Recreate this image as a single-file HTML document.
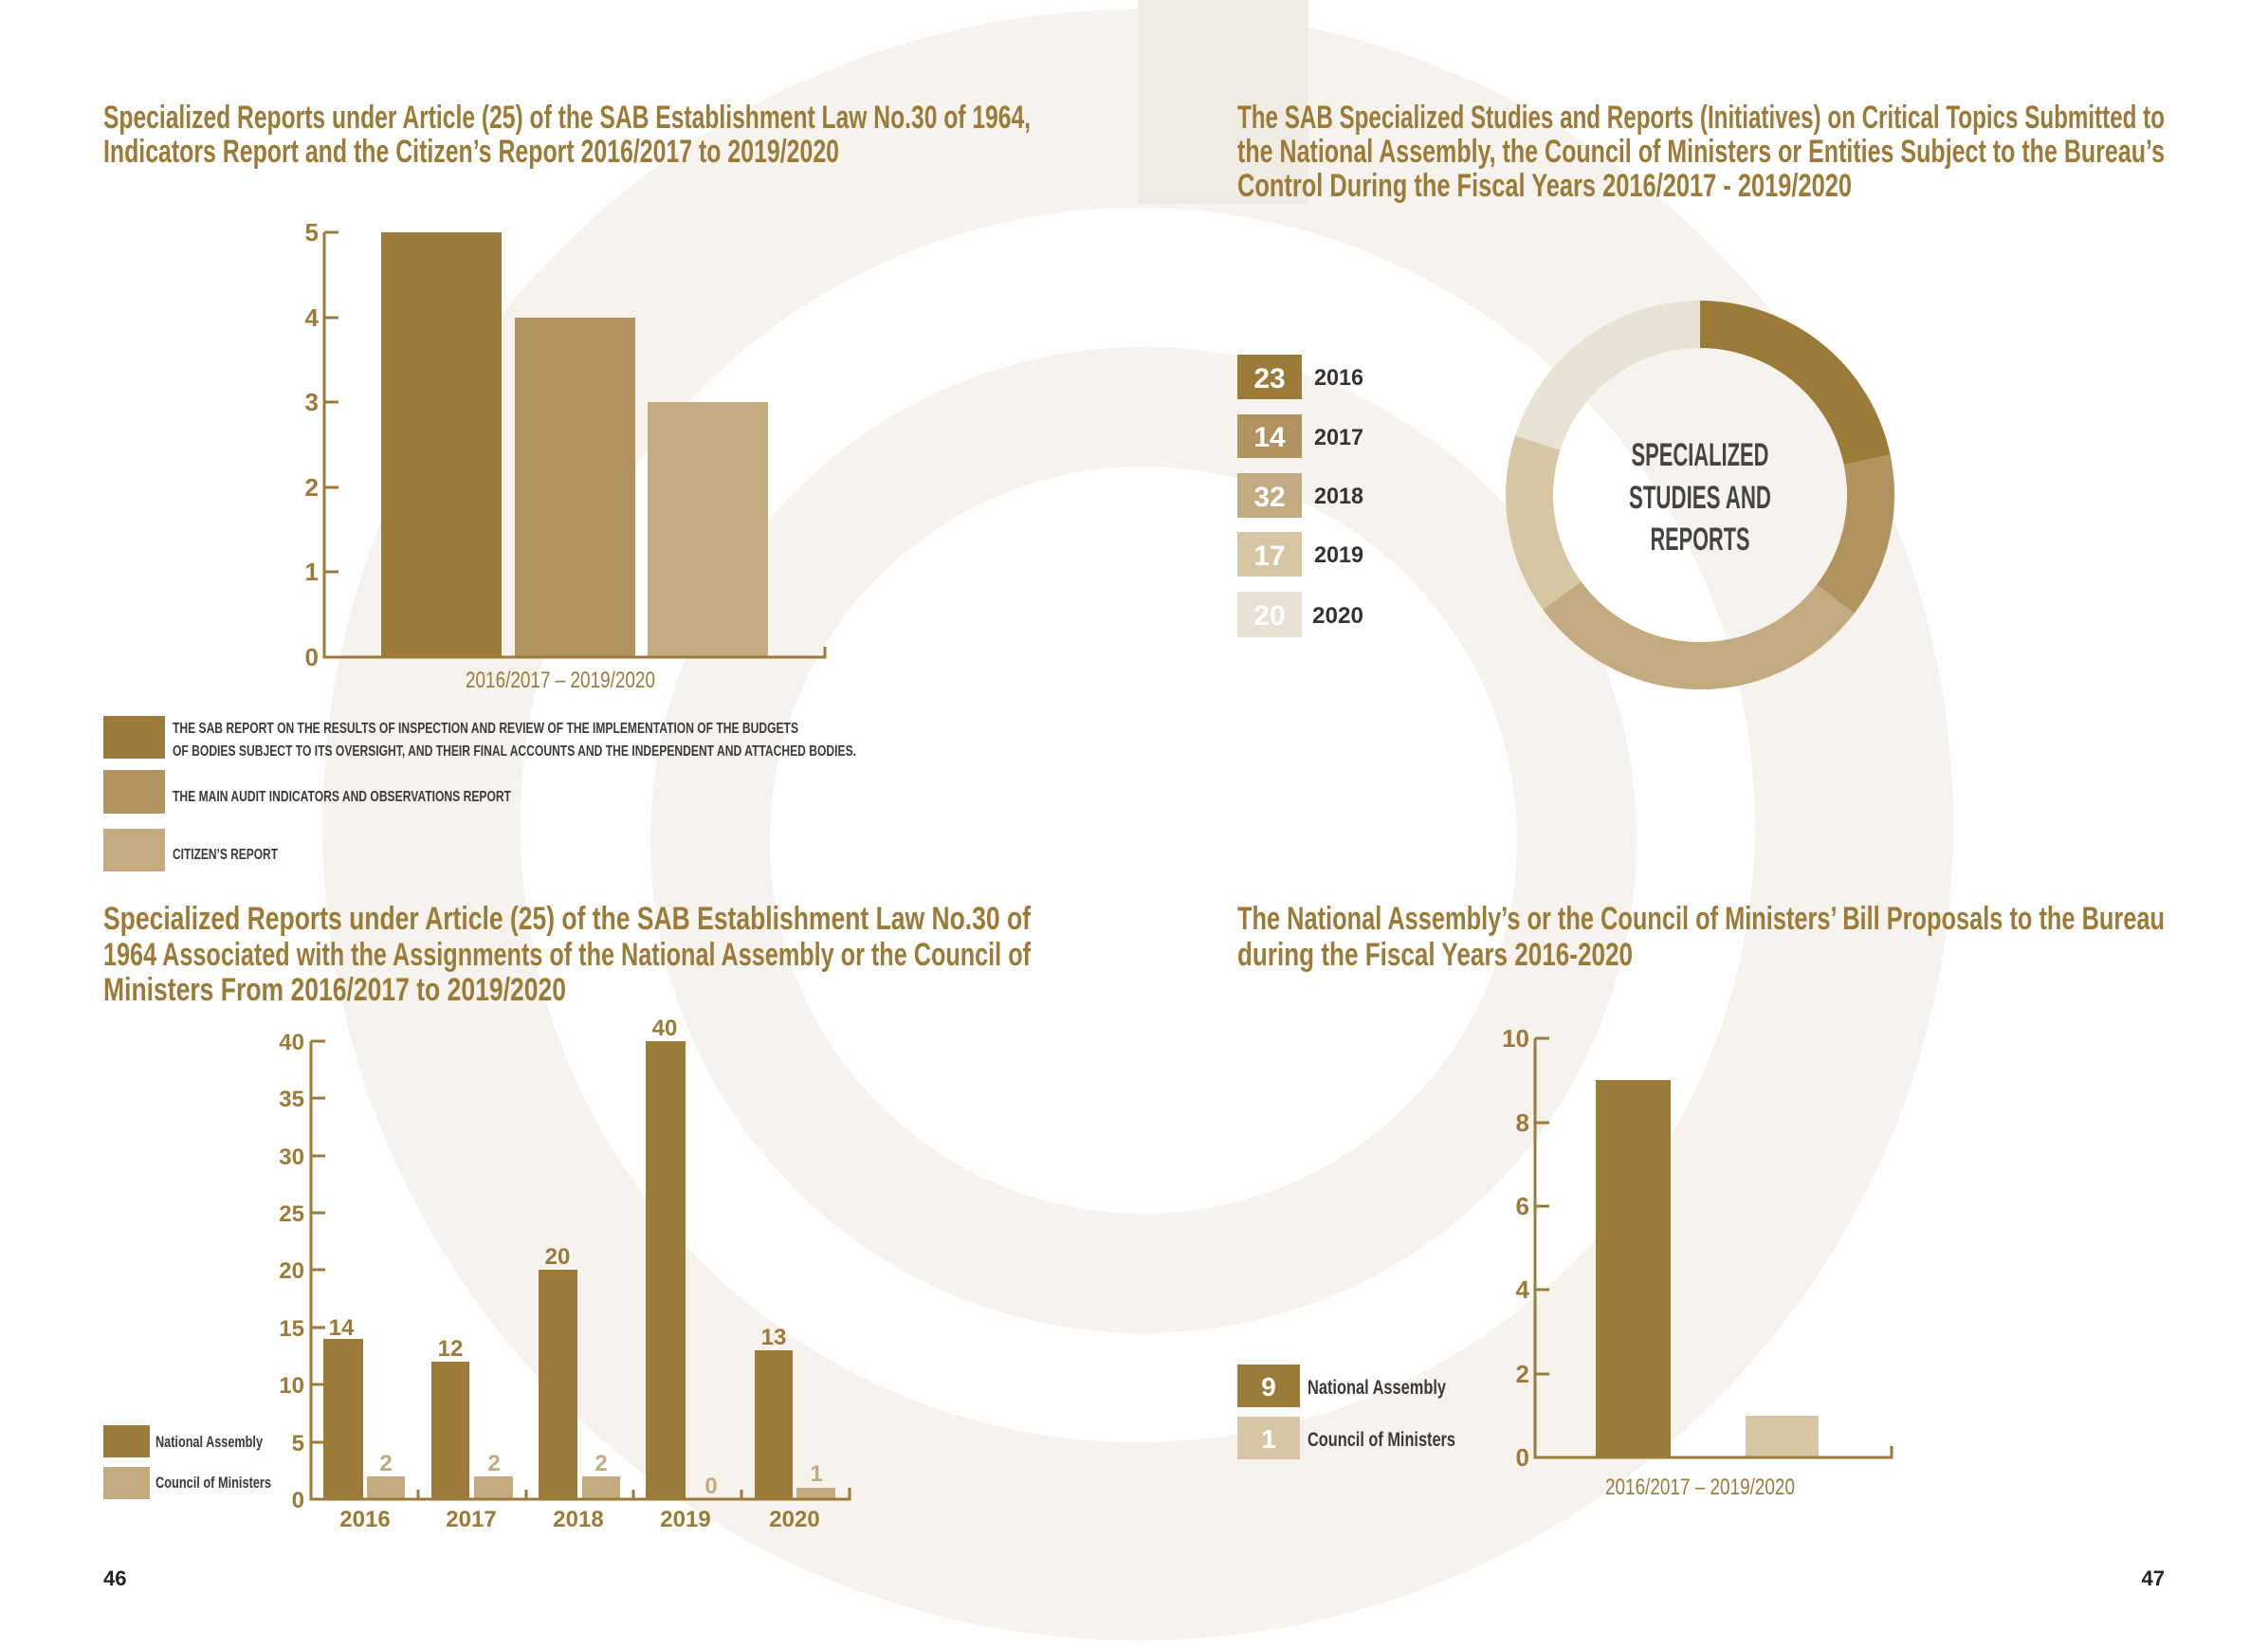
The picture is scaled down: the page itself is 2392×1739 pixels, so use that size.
<!DOCTYPE html>
<html><head><meta charset="utf-8"><style>
html,body{margin:0;padding:0;background:#fff;}
svg{display:block;}
text{font-family:"Liberation Sans Narrow","Liberation Sans",sans-serif;font-weight:bold;}
</style></head><body>
<svg width="2392" height="1739" viewBox="0 0 2392 1739" xmlns="http://www.w3.org/2000/svg">
<!-- background rings -->
<g fill="#f6f3ee">
<path fill-rule="evenodd" d="M1200,10 a860,860 0 1,0 0.1,0 Z M1200,219 a651,651 0 1,1 -0.1,0 Z"/>
<path fill-rule="evenodd" d="M1206,366 a520,520 0 1,0 0.1,0 Z M1206,492 a394,394 0 1,1 -0.1,0 Z"/>
</g>
<rect x="1200" y="0" width="180" height="215" fill="#f1ece3"/>

<!-- Chart 1 title -->
<g fill="#9c7a38" font-size="34">
<text x="109" y="135" textLength="978" lengthAdjust="spacingAndGlyphs">Specialized Reports under Article (25) of the SAB Establishment Law No.30 of 1964,</text>
<text x="109" y="171" textLength="776" lengthAdjust="spacingAndGlyphs">Indicators Report and the Citizen’s Report 2016/2017 to 2019/2020</text>
</g>
<rect x="402" y="245" width="127" height="448" fill="#9c7a38"/>
<rect x="543" y="335" width="127" height="358" fill="#b0935e"/>
<rect x="683" y="424" width="127" height="269" fill="#c3ab7f"/>
<g stroke="#9c7a38" stroke-width="3" fill="none">
<path d="M342,245 V693 H870 V682"/>
<path d="M342,245 H357 M342,335 H357 M342,424 H357 M342,514 H357 M342,603 H357"/>
</g>
<g fill="#9c7a38" font-size="26" text-anchor="end">
<text x="336" y="254">5</text><text x="336" y="344">4</text><text x="336" y="433">3</text>
<text x="336" y="523">2</text><text x="336" y="612">1</text><text x="336" y="702">0</text>
</g>
<text x="591" y="725" fill="#9c7a38" font-size="24" text-anchor="middle" textLength="200" lengthAdjust="spacingAndGlyphs" style="font-weight:normal">2016/2017 – 2019/2020</text>
<rect x="109" y="755" width="65" height="45" fill="#9c7a38"/>
<rect x="109" y="812" width="65" height="46" fill="#b0935e"/>
<rect x="109" y="874" width="65" height="45" fill="#c3ab7f"/>
<g fill="#3a3a3a" font-size="16">
<text x="182" y="773" textLength="660" lengthAdjust="spacingAndGlyphs">THE SAB REPORT ON THE RESULTS OF INSPECTION AND REVIEW OF THE IMPLEMENTATION OF THE BUDGETS</text>
<text x="182" y="797" textLength="721" lengthAdjust="spacingAndGlyphs">OF BODIES SUBJECT TO ITS OVERSIGHT, AND THEIR FINAL ACCOUNTS AND THE INDEPENDENT AND ATTACHED BODIES.</text>
<text x="182" y="845" textLength="357" lengthAdjust="spacingAndGlyphs">THE MAIN AUDIT INDICATORS AND OBSERVATIONS REPORT</text>
<text x="182" y="906" textLength="111" lengthAdjust="spacingAndGlyphs">CITIZEN’S REPORT</text>
</g>

<!-- Chart 2 -->
<g fill="#9c7a38" font-size="34">
<text x="1305" y="135" textLength="978" lengthAdjust="spacingAndGlyphs">The SAB Specialized Studies and Reports (Initiatives) on Critical Topics Submitted to</text>
<text x="1305" y="171" textLength="978" lengthAdjust="spacingAndGlyphs">the National Assembly, the Council of Ministers or Entities Subject to the Bureau’s</text>
<text x="1305" y="207" textLength="648" lengthAdjust="spacingAndGlyphs">Control During the Fiscal Years 2016/2017 - 2019/2020</text>
</g>
<rect x="1305" y="374" width="68" height="47" fill="#9c7a38"/>
<rect x="1305" y="437" width="68" height="46" fill="#b0935e"/>
<rect x="1305" y="499" width="68" height="47" fill="#c3ab7f"/>
<rect x="1305" y="561" width="68" height="47" fill="#d6c6a4"/>
<rect x="1305" y="624" width="68" height="48" fill="#e9e1d3"/>
<g fill="#fff" font-size="30" text-anchor="middle">
<text x="1339" y="409">23</text><text x="1339" y="471">14</text><text x="1339" y="534">32</text>
<text x="1339" y="596">17</text><text x="1339" y="659">20</text>
</g>
<g fill="#333" font-size="24" style="font-family:'DejaVu Sans',sans-serif;font-weight:normal">
<text x="1386" y="406" textLength="52" lengthAdjust="spacingAndGlyphs">2016</text>
<text x="1386" y="469" textLength="52" lengthAdjust="spacingAndGlyphs">2017</text>
<text x="1386" y="531" textLength="52" lengthAdjust="spacingAndGlyphs">2018</text>
<text x="1386" y="593" textLength="52" lengthAdjust="spacingAndGlyphs">2019</text>
<text x="1384" y="657" textLength="54" lengthAdjust="spacingAndGlyphs">2020</text>
</g>
<g fill="none" stroke-width="50">
<path stroke="#9c7a38" d="M1793,342 A180,180 0 0,1 1969.1,484.7"/>
<path stroke="#b0935e" d="M1969.1,484.7 A180,180 0 0,1 1935.8,631.7"/>
<path stroke="#c3ab7f" d="M1935.8,631.7 A180,180 0 0,1 1647.4,628.0"/>
<path stroke="#d6c6a4" d="M1647.4,628.0 A180,180 0 0,1 1621.8,467.0"/>
<path stroke="#e9e1d3" d="M1621.8,467.0 A180,180 0 0,1 1793,342"/>
</g>
<g fill="#444" font-size="34" text-anchor="middle">
<text x="1793" y="491" textLength="145" lengthAdjust="spacingAndGlyphs">SPECIALIZED</text>
<text x="1793" y="536" textLength="150" lengthAdjust="spacingAndGlyphs">STUDIES AND</text>
<text x="1793" y="580" textLength="105" lengthAdjust="spacingAndGlyphs">REPORTS</text>
</g>

<!-- Chart 3 -->
<g fill="#9c7a38" font-size="34">
<text x="109" y="980" textLength="978" lengthAdjust="spacingAndGlyphs">Specialized Reports under Article (25) of the SAB Establishment Law No.30 of</text>
<text x="109" y="1018" textLength="978" lengthAdjust="spacingAndGlyphs">1964 Associated with the Assignments of the National Assembly or the Council of</text>
<text x="109" y="1055" textLength="488" lengthAdjust="spacingAndGlyphs">Ministers From 2016/2017 to 2019/2020</text>
</g>
<g fill="#9c7a38">
<rect x="341" y="1412" width="42" height="169"/>
<rect x="455" y="1436" width="40" height="145"/>
<rect x="568" y="1339" width="41" height="242"/>
<rect x="681" y="1098" width="42" height="483"/>
<rect x="796" y="1424" width="40" height="157"/>
</g>
<g fill="#c3ab7f">
<rect x="387" y="1557" width="40" height="24"/>
<rect x="500" y="1557" width="41" height="24"/>
<rect x="614" y="1557" width="40" height="24"/>
<rect x="840" y="1569" width="41" height="12"/>
</g>
<g stroke="#9c7a38" stroke-width="3" fill="none">
<path d="M328,1098 V1581 H896 V1569"/>
<path d="M328,1098 H343 M328,1158 H343 M328,1219 H343 M328,1279 H343 M328,1339 H343 M328,1400 H343 M328,1460 H343 M328,1521 H343"/>
<path d="M441,1581 V1571 M555,1581 V1571 M668,1581 V1571 M782,1581 V1571"/>
</g>
<g fill="#9c7a38" font-size="24" text-anchor="end">
<text x="321" y="1107">40</text><text x="321" y="1167">35</text><text x="321" y="1228">30</text>
<text x="321" y="1288">25</text><text x="321" y="1348">20</text><text x="321" y="1409">15</text>
<text x="321" y="1469">10</text><text x="321" y="1530">5</text><text x="321" y="1590">0</text>
</g>
<g fill="#9c7a38" font-size="24" text-anchor="middle">
<text x="360" y="1408">14</text><text x="475" y="1430">12</text><text x="588" y="1333">20</text>
<text x="701" y="1092">40</text><text x="816" y="1418">13</text>
<text x="385" y="1610">2016</text><text x="497" y="1610">2017</text><text x="610" y="1610">2018</text>
<text x="723" y="1610">2019</text><text x="838" y="1610">2020</text>
</g>
<g fill="#c3ab7f" font-size="24" text-anchor="middle">
<text x="407" y="1551">2</text><text x="521" y="1551">2</text><text x="634" y="1551">2</text>
<text x="750" y="1575">0</text><text x="861" y="1562">1</text>
</g>
<rect x="109" y="1503" width="49" height="34" fill="#9c7a38"/>
<rect x="109" y="1547" width="49" height="34" fill="#c3ab7f"/>
<g fill="#3a3a3a" font-size="17">
<text x="164" y="1526" textLength="113" lengthAdjust="spacingAndGlyphs">National Assembly</text>
<text x="164" y="1569" textLength="122" lengthAdjust="spacingAndGlyphs">Council of Ministers</text>
</g>
<text x="109" y="1672" fill="#222" font-size="22">46</text>

<!-- Chart 4 -->
<g fill="#9c7a38" font-size="34">
<text x="1305" y="980" textLength="978" lengthAdjust="spacingAndGlyphs">The National Assembly’s or the Council of Ministers’ Bill Proposals to the Bureau</text>
<text x="1305" y="1018" textLength="417" lengthAdjust="spacingAndGlyphs">during the Fiscal Years 2016-2020</text>
</g>
<rect x="1683" y="1139" width="79" height="398" fill="#9c7a38"/>
<rect x="1841" y="1493" width="77" height="44" fill="#d6c6a4"/>
<g stroke="#9c7a38" stroke-width="3" fill="none">
<path d="M1619,1095 V1537 H1995 V1525"/>
<path d="M1619,1095 H1634 M1619,1184 H1634 M1619,1272 H1634 M1619,1360 H1634 M1619,1449 H1634"/>
</g>
<g fill="#9c7a38" font-size="26" text-anchor="end">
<text x="1613" y="1104">10</text><text x="1613" y="1193">8</text><text x="1613" y="1281">6</text>
<text x="1613" y="1369">4</text><text x="1613" y="1458">2</text><text x="1613" y="1546">0</text>
</g>
<text x="1793" y="1576" fill="#9c7a38" font-size="24" text-anchor="middle" textLength="200" lengthAdjust="spacingAndGlyphs" style="font-weight:normal">2016/2017 – 2019/2020</text>
<rect x="1305" y="1439" width="66" height="45" fill="#9c7a38"/>
<rect x="1305" y="1494" width="66" height="45" fill="#d6c6a4"/>
<g fill="#fff" font-size="28" text-anchor="middle"><text x="1338" y="1472">9</text><text x="1338" y="1527">1</text></g>
<g fill="#3a3a3a" font-size="21">
<text x="1379" y="1470" textLength="146" lengthAdjust="spacingAndGlyphs">National Assembly</text>
<text x="1379" y="1525" textLength="156" lengthAdjust="spacingAndGlyphs">Council of Ministers</text>
</g>
<text x="2283" y="1672" fill="#222" font-size="22" text-anchor="end">47</text>
</svg>
</body></html>
